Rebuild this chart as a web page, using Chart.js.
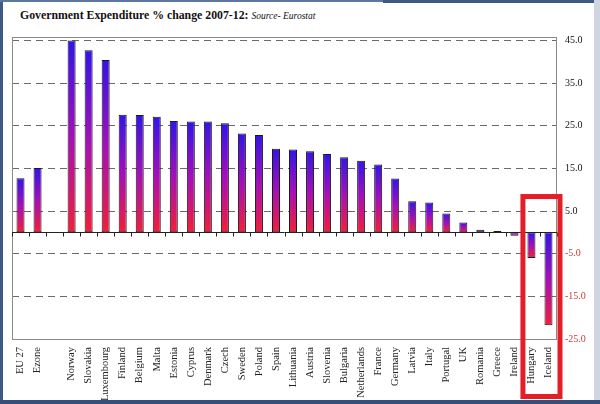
<!DOCTYPE html>
<html>
<head>
<meta charset="utf-8">
<script src="https://cdn.jsdelivr.net/npm/chart.js@4"></script>
<style>
  html, body { margin: 0; padding: 0; background: #fff; }
  #wrap { position: relative; width: 600px; height: 404px; overflow: hidden; background: #fff; }
  #c { position: absolute; left: 0; top: 0; }
  .band { position: absolute; }
  #title { position: absolute; left: 20px; top: 8px; font-family: "Liberation Serif", "DejaVu Serif", serif; font-weight: bold; font-size: 11.8px; color: #111; white-space: nowrap; }
  #title i { font-weight: normal; font-size: 9.5px; }
</style>
</head>
<body>
<div id="wrap">
  <div class="band" style="left:0;top:0;width:3px;height:404px;background:#3d5a86;"></div>
  <div class="band" style="left:0;top:0;width:600px;height:2px;background:#5b77a0;"></div>
  <div class="band" style="left:383px;top:0;width:217px;height:3px;background:#3d5a86;"></div>
  <div class="band" style="left:594px;top:0;width:6px;height:404px;background:#cfd6e2;"></div>
  <div class="band" style="left:0;top:400px;width:600px;height:4px;background:#34507a;"></div>
  <div id="title">Government Expenditure % change 2007-12: <i>Source- Eurostat</i></div>
  <canvas id="c" width="600" height="404"></canvas>
</div>
<script>
const categories = ['EU 27','Ezone','','Norway','Slovakia','Luxembourg','Finland','Belgium','Malta','Estonia','Cyprus','Denmark','Czech','Sweden','Poland','Spain','Lithuania','Austria','Slovenia','Bulgaria','Netherlands','France','Germany','Latvia','Italy','Portugal','UK','Romania','Greece','Ireland','Hungary','Iceland'];
const changePct = [12.7,15.1,null,45.0,42.7,40.4,27.6,27.5,27.1,26.1,26.0,26.0,25.6,23.2,22.8,19.6,19.4,19.0,18.4,17.6,16.8,15.9,12.6,7.3,7.0,4.4,2.3,0.6,0.3,-0.8,-6.0,-21.8];
const yTicks = [-25,-15,-5,5,15,25,35,45];
const highlighted = ['Hungary','Iceland'];

function barGradient(ctx) {
  const chart = ctx.chart;
  const y = chart.scales.y;
  if (!chart.chartArea || !y) return '#8010c0';
  const v = ctx.raw;
  if (v === null || v === undefined) return '#8010c0';
  const top = y.getPixelForValue(Math.max(v, 0));
  const bot = y.getPixelForValue(Math.min(v, 0));
  const g = chart.ctx.createLinearGradient(0, top, 0, Math.max(bot, top + 1));
  g.addColorStop(0, '#3214ea');
  g.addColorStop(0.5, '#a410b8');
  g.addColorStop(1, '#f41e38');
  return g;
}

const decor = {
  id: 'decor',
  beforeDatasetsDraw(chart) {
    const {ctx, chartArea: a} = chart;
    ctx.save();
    ctx.strokeStyle = '#8a8a8a';
    ctx.lineWidth = 1;
    ctx.strokeRect(a.left + 0.5, a.top + 0.5, a.right - a.left - 1, a.bottom - a.top);
    ctx.restore();
  },
  afterDatasetsDraw(chart) {
    const {ctx, chartArea: a, scales} = chart;
    const x = scales.x, y = scales.y;
    const y0 = Math.round(y.getPixelForValue(0)) + 0.5;
    ctx.save();
    ctx.strokeStyle = '#222';
    ctx.lineWidth = 1;
    ctx.beginPath();
    ctx.moveTo(a.left, y0);
    ctx.lineTo(a.right, y0);
    const step = x.getPixelForValue(1) - x.getPixelForValue(0);
    for (let i = 0; i <= categories.length; i++) {
      const px = Math.round(x.getPixelForValue(i) - step / 2) + 0.5;
      ctx.moveTo(px, y0);
      ctx.lineTo(px, y0 + 4);
    }
    ctx.stroke();
    // highlight box
    const i0 = categories.indexOf(highlighted[0]);
    const left = x.getPixelForValue(i0) - step / 2;
    const right = a.right + 3;
    const top = y.getPixelForValue(8.4);
    const bottom = chart.height - 7.5;
    ctx.strokeStyle = '#e41e26';
    ctx.lineWidth = 5;
    ctx.strokeRect(left, top, right - left, bottom - top);
    ctx.restore();
  }
};

new Chart(document.getElementById('c'), {
  type: 'bar',
  data: {
    labels: categories,
    datasets: [{
      data: changePct,
      backgroundColor: barGradient,
      borderColor: '#1a1a1a',
      borderWidth: 1,
      borderSkipped: false,
      barPercentage: 0.47,
      categoryPercentage: 1
    }]
  },
  options: {
    responsive: false,
    animation: false,
    devicePixelRatio: 1,
    layout: { padding: { left: 12, top: 37, right: 0, bottom: 0 } },
    plugins: { legend: { display: false }, tooltip: { enabled: false }, title: { display: false } },
    scales: {
      x: {
        grid: { display: false, drawTicks: false },
        border: { display: false },
        afterFit(s) { s.height = 65; },
        ticks: {
          autoSkip: false, maxRotation: 90, minRotation: 90, padding: 8,
          color: '#222',
          font: { family: '"Liberation Serif", "DejaVu Serif", serif', size: 10.5 }
        }
      },
      y: {
        position: 'right',
        min: -25, max: 45.8,
        afterBuildTicks(s) { s.ticks = yTicks.map(v => ({ value: v })); },
        afterFit(s) { s.width = 43; },
        grid: { color: '#6a6a6a', lineWidth: 1, drawTicks: false },
        border: { display: false, dash: [7, 5] },
        ticks: {
          padding: 8,
          color: c => (c.tick && c.tick.value < 0) ? '#d23a3a' : '#111',
          font: { family: '"Liberation Serif", "DejaVu Serif", serif', size: 10 },
          callback: v => Number(v).toFixed(1)
        }
      }
    }
  },
  plugins: [decor]
});
</script>
</body>
</html>
